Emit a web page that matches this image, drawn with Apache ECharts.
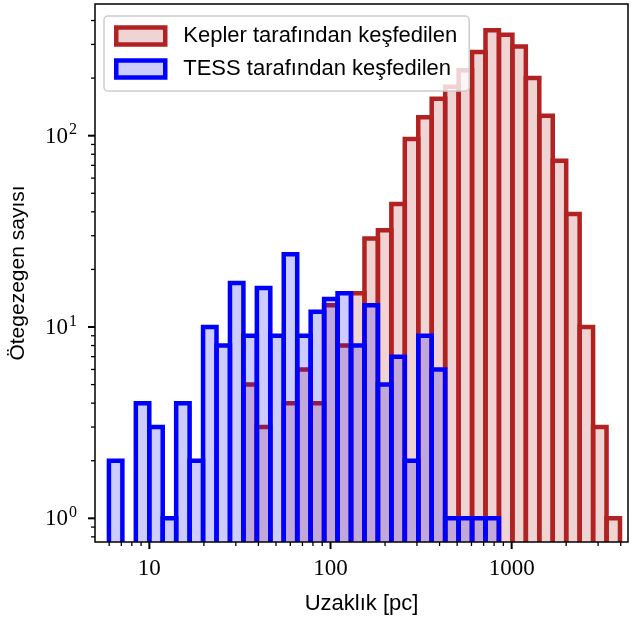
<!DOCTYPE html>
<html>
<head>
<meta charset="utf-8">
<script src="https://cdn.jsdelivr.net/npm/echarts@6/dist/echarts.min.js"></script>
<style>
html, body { margin: 0; padding: 0; background: #fff; }
#chart { width: 632px; height: 621px; }
</style>
</head>
<body>
<div id="chart"></div>
<script>
// 38 log-spaced bins (pc), shared by both histograms
var binLo = 5.98, binHi = 3963, binCount = 38;
var keplerCounts = [0, 0, 0, 0, 0, 0, 0, 0, 0, 0, 5, 3, 0, 4, 6, 4, 13, 8, 15, 29,
	32, 44, 96, 125, 156, 180, 220, 274, 356, 337, 293, 200, 127, 74, 39, 10, 3, 1];
var tessCounts = [2, 0, 4, 3, 1, 4, 2, 10, 8, 17, 9, 16, 9, 24, 9, 12, 14, 15, 8, 13,
	5, 7, 2, 9, 6, 1, 1, 1, 1, 0, 0, 0, 0, 0, 0, 0, 0, 0];
var seriesNames = ['Kepler tarafından keşfedilen', 'TESS tarafından keşfedilen'];
var xTicks = [10, 100, 1000];
var xTickLabels = ['10', '100', '1000'];
var yTicks = [1, 10, 100];
var yTickExps = ['0', '1', '2'];
var xMin = 5.01, xMax = 4388, yMin = 0.752, yMax = 488;

var kRed = '#b22222', kFill = 'rgba(178,34,34,0.2)';
var tBlue = '#0000ff', tFill = 'rgba(0,0,255,0.2)';
var edgeW = 4.5;

var edges = [];
var lLo = Math.log10(binLo), lHi = Math.log10(binHi);
for (var i = 0; i <= binCount; i++) {
	edges.push(Math.pow(10, lLo + i * (lHi - lLo) / binCount));
}

function binData(counts) {
	var out = [];
	for (var i = 0; i < counts.length; i++) {
		if (counts[i] > 0) out.push([edges[i], edges[i + 1], counts[i]]);
	}
	return out;
}

function barRenderer(fill, stroke) {
	return function (params, api) {
		var p0 = api.coord([api.value(0), api.value(2)]);
		var p1 = api.coord([api.value(1), api.value(2)]);
		var bottom = params.coordSys.y + params.coordSys.height + 10;
		return {
			type: 'rect',
			shape: { x: p0[0], y: p0[1], width: p1[0] - p0[0], height: bottom - p0[1] },
			style: { fill: fill, stroke: stroke, lineWidth: edgeW }
		};
	};
}

function minorTicks(lo, hi) {
	var t = [];
	for (var e = -1; e < 4; e++) {
		for (var d = 2; d < 10; d++) {
			var v = d * Math.pow(10, e);
			if (v > lo && v < hi) t.push(v);
		}
	}
	return t;
}

var tickItems = [];
xTicks.forEach(function (v, i) { tickItems.push({ axis: 'x', v: v, major: true, label: xTickLabels[i] }); });
minorTicks(xMin, xMax).forEach(function (v) { tickItems.push({ axis: 'x', v: v, major: false }); });
yTicks.forEach(function (v, i) { tickItems.push({ axis: 'y', v: v, major: true, label: yTickExps[i] }); });
minorTicks(yMin, yMax).forEach(function (v) { tickItems.push({ axis: 'y', v: v, major: false }); });

function renderTick(params, api) {
	var t = tickItems[params.dataIndex];
	var cs = params.coordSys;
	var len = t.major ? 7 : 4;
	var lw = t.major ? 2 : 1.3;
	var kids = [];
	if (t.axis === 'x') {
		var x = api.coord([t.v, yMin])[0];
		var y = cs.y + cs.height;
		kids.push({ type: 'line', shape: { x1: x, y1: y, x2: x, y2: y + len }, style: { stroke: '#000', lineWidth: lw } });
		if (t.major) {
			kids.push({ type: 'text', x: x, y: y + 27, style: {
				text: t.label, font: '23px "Liberation Serif"', fill: '#000', align: 'center', verticalAlign: 'middle' } });
		}
	} else {
		var yy = api.coord([xMin, t.v])[1];
		var xx = cs.x;
		kids.push({ type: 'line', shape: { x1: xx - len, y1: yy, x2: xx, y2: yy }, style: { stroke: '#000', lineWidth: lw } });
		if (t.major) {
			kids.push({ type: 'text', x: xx - 27, y: yy + 1, style: {
				text: '10', font: '23px "Liberation Serif"', fill: '#000', align: 'right', verticalAlign: 'middle' } });
			kids.push({ type: 'text', x: xx - 26, y: yy - 5.5, style: {
				text: t.label, font: '16px "Liberation Serif"', fill: '#000', align: 'left', verticalAlign: 'middle' } });
		}
	}
	return { type: 'group', children: kids };
}

var chart = echarts.init(document.getElementById('chart'), null, { renderer: 'canvas' });

var option = {
	animation: false,
	backgroundColor: '#ffffff',
	grid: {
		left: 92, right: 4, top: 4, bottom: 79,
		show: true, borderColor: '#000', borderWidth: 1.5, backgroundColor: 'transparent', z: 5
	},
	xAxis: {
		type: 'log', logBase: 10, min: xMin, max: xMax,
		axisLine: { show: false }, axisTick: { show: false }, axisLabel: { show: false }, splitLine: { show: false },
		name: 'Uzaklık [pc]', nameLocation: 'middle', nameGap: 51,
		nameTextStyle: { fontFamily: 'Liberation Sans', fontSize: 22, color: '#000' }
	},
	yAxis: {
		type: 'log', logBase: 10, min: yMin, max: yMax,
		axisLine: { show: false }, axisTick: { show: false }, axisLabel: { show: false }, splitLine: { show: false },
		name: 'Ötegezegen sayısı', nameLocation: 'middle', nameGap: 66,
		nameTextStyle: { fontFamily: 'Liberation Sans', fontSize: 21, color: '#000' }
	},
	legend: {
		orient: 'vertical', left: 104, top: 16,
		padding: [9, 12, 11, 10],
		itemWidth: 49, itemHeight: 17, itemGap: 11,
		backgroundColor: 'rgba(255,255,255,0.8)', borderColor: '#cccccc', borderWidth: 1.5, borderRadius: 4,
		textStyle: { fontFamily: 'Liberation Sans', fontSize: 22, color: '#000', padding: [0, 0, 0, 13] },
		data: [
			{ name: seriesNames[0], icon: 'rect', itemStyle: { color: kFill, borderColor: kRed, borderWidth: edgeW } },
			{ name: seriesNames[1], icon: 'rect', itemStyle: { color: tFill, borderColor: tBlue, borderWidth: edgeW } }
		]
	},
	series: [
		{
			type: 'custom', name: seriesNames[0], renderItem: barRenderer(kFill, kRed),
			data: binData(keplerCounts), encode: { x: [0, 1], y: 2 }, clip: true, silent: true,
			lineStyle: { width: 0.01 },
			itemStyle: { color: kFill, borderColor: kRed, borderWidth: edgeW }
		},
		{
			type: 'custom', name: seriesNames[1], renderItem: barRenderer(tFill, tBlue),
			data: binData(tessCounts), encode: { x: [0, 1], y: 2 }, clip: true, silent: true,
			lineStyle: { width: 0.01 },
			itemStyle: { color: tFill, borderColor: tBlue, borderWidth: edgeW }
		},
		{
			type: 'custom', name: 'ticks', renderItem: renderTick, silent: true, clip: false,
			data: tickItems.map(function (t) { return t.axis === 'x' ? [t.v, yMin] : [xMin, t.v]; }),
			encode: { x: 0, y: 1 }
		}
	]
};

chart.setOption(option);
</script>
</body>
</html>
